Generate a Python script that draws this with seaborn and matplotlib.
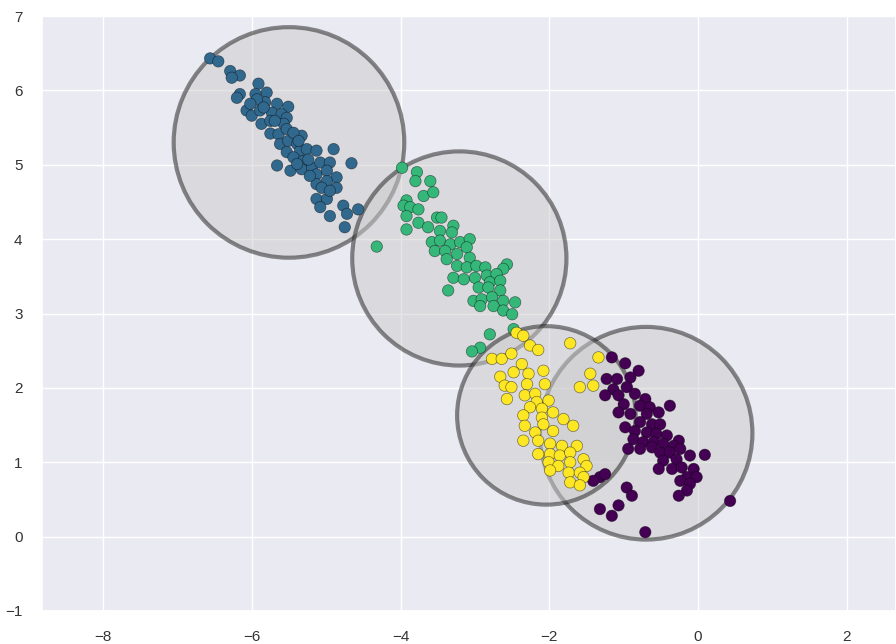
import matplotlib as mpl
import matplotlib.pyplot as plt
import numpy as np
import pandas as pd
import seaborn as sns


# cluster points (x, y)
blue_x = [-6.56, -6.45, -6.29, -6.16, -6.27, -5.91, -6.16, -6.20, -5.80, -5.95,
          -5.82, -5.66, -5.51, -6.07, -6.00, -5.89, -5.73, -5.60, -5.53, -5.87,
          -5.75, -5.57, -5.75, -5.64, -5.53, -5.33, -5.62, -5.51, -5.39, -5.35,
          -5.26, -5.13, -4.90, -5.53, -5.44, -5.31, -5.66, -5.48, -5.33, -5.19,
          -5.08, -4.95, -4.66, -5.13, -4.99, -4.86, -5.13, -4.99, -4.86, -5.13,
          -4.99, -5.08, -4.95, -4.77, -4.57, -4.72, -4.75, -5.93, -5.84, -6.02,
          -5.69, -5.44, -5.37, -5.24, -5.39, -5.22, -5.06, -4.95]
blue_y = [6.43, 6.39, 6.26, 6.20, 6.17, 6.09, 5.95, 5.90, 5.97, 5.95,
          5.84, 5.82, 5.78, 5.73, 5.66, 5.73, 5.70, 5.68, 5.63, 5.55,
          5.59, 5.55, 5.42, 5.41, 5.48, 5.39, 5.28, 5.32, 5.28, 5.19,
          5.21, 5.19, 5.21, 5.17, 5.10, 5.05, 4.99, 4.92, 4.94, 4.96,
          5.03, 5.03, 5.02, 4.87, 4.92, 4.83, 4.74, 4.78, 4.69, 4.54,
          4.54, 4.43, 4.31, 4.45, 4.40, 4.34, 4.16, 5.88, 5.77, 5.82,
          5.59, 5.43, 5.32, 5.07, 5.01, 4.85, 4.69, 4.65]

green_x = [-3.98, -3.78, -3.80, -3.60, -3.69, -3.56, -3.92, -3.96, -3.87, -3.76,
           -3.92, -3.92, -3.76, -3.63, -3.51, -3.45, -3.47, -3.29, -3.31, -3.58,
           -3.47, -3.33, -3.20, -3.07, -3.54, -3.40, -3.24, -3.11, -3.07, -3.38,
           -3.24, -3.11, -2.98, -2.86, -2.57, -2.62, -3.29, -3.15, -3.00, -2.84,
           -2.71, -2.80, -2.66, -2.95, -2.82, -2.66, -3.36, -3.02, -2.91, -2.77,
           -2.62, -2.46, -2.93, -2.75, -2.62, -2.50, -4.32, -2.80, -2.93, -3.04,
           -2.48]
green_y = [4.96, 4.90, 4.78, 4.78, 4.58, 4.63, 4.52, 4.45, 4.43, 4.40,
           4.31, 4.13, 4.22, 4.16, 4.29, 4.29, 4.11, 4.18, 4.09, 3.96,
           3.98, 3.93, 3.96, 4.00, 3.84, 3.84, 3.80, 3.89, 3.75, 3.73,
           3.64, 3.62, 3.64, 3.62, 3.66, 3.60, 3.48, 3.46, 3.48, 3.51,
           3.53, 3.42, 3.44, 3.35, 3.35, 3.31, 3.31, 3.17, 3.19, 3.22,
           3.17, 3.15, 3.10, 3.10, 3.04, 2.99, 3.90, 2.72, 2.54, 2.49,
           2.79]

yellow_x = [-2.44, -2.35, -2.26, -2.15, -1.72, -2.77, -2.64, -2.51, -2.37, -2.48,
            -2.66, -2.28, -2.08, -2.60, -2.51, -2.30, -2.06, -2.57, -2.33, -2.19,
            -2.17, -2.01, -2.26, -2.10, -1.95, -2.35, -2.10, -1.81, -1.68, -2.33,
            -2.08, -1.95, -2.19, -2.35, -2.15, -1.99, -1.83, -1.63, -2.15, -1.99,
            -1.86, -1.72, -2.01, -1.88, -1.72, -1.54, -1.50, -1.74, -1.59, -1.72,
            -1.54, -1.59, -1.99, -1.34, -1.45, -1.59, -1.41]
yellow_y = [2.74, 2.70, 2.57, 2.51, 2.60, 2.39, 2.39, 2.46, 2.32, 2.21,
            2.15, 2.19, 2.23, 2.03, 2.01, 2.05, 2.05, 1.85, 1.90, 1.92,
            1.81, 1.83, 1.74, 1.72, 1.67, 1.63, 1.60, 1.58, 1.49, 1.49,
            1.51, 1.42, 1.40, 1.29, 1.29, 1.25, 1.22, 1.22, 1.11, 1.11,
            1.09, 1.13, 1.00, 0.95, 1.00, 1.04, 0.95, 0.86, 0.86, 0.73,
            0.80, 0.69, 0.89, 2.41, 2.19, 2.01, 2.03]

purple_x = [-1.16, -0.98, -0.80, -1.23, -1.09, -0.91, -0.96, -1.14, -1.25, -1.07,
            -0.85, -0.71, -1.00, -0.78, -0.65, -0.38, -1.07, -0.91, -0.69, -0.53,
            -0.78, -0.62, -0.51, -0.98, -0.85, -0.69, -0.56, -0.42, -0.26, -0.87,
            -0.74, -0.60, -0.47, -0.94, -0.78, -0.62, -0.33, -0.51, -0.38, -0.24,
            -0.11, 0.09, -0.47, -0.29, -0.53, -0.35, -0.22, -0.06, -0.15, -0.02,
            -0.24, -0.11, -0.15, -0.26, -1.32, -1.41, -1.25, -0.96, -0.89, -1.07,
            -1.32, -1.16, -0.71, 0.43]
purple_y = [2.41, 2.33, 2.23, 2.12, 2.12, 2.14, 2.01, 1.98, 1.90, 1.90,
            1.92, 1.85, 1.78, 1.76, 1.74, 1.76, 1.67, 1.65, 1.65, 1.67,
            1.54, 1.51, 1.51, 1.47, 1.42, 1.40, 1.38, 1.36, 1.29, 1.31,
            1.27, 1.27, 1.25, 1.18, 1.18, 1.20, 1.22, 1.13, 1.13, 1.18,
            1.09, 1.10, 1.02, 1.04, 0.91, 0.91, 0.93, 0.91, 0.80, 0.80,
            0.75, 0.71, 0.62, 0.55, 0.80, 0.75, 0.84, 0.66, 0.55, 0.42,
            0.37, 0.28, 0.06, 0.48]

# k-means circles: label order 0 purple, 1 blue, 2 green, 3 yellow
center_x = [-0.70, -5.50, -3.21, -2.04]
center_y = [1.39, 5.30, 3.74, 1.63]
radius = [1.43, 1.55, 1.44, 1.20]

sns.set_theme(style="darkgrid")
plt.rcParams["font.family"] = ["Liberation Sans", "DejaVu Sans"]

df = pd.concat([
    pd.DataFrame({"x": purple_x, "y": purple_y, "label": 0}),
    pd.DataFrame({"x": blue_x, "y": blue_y, "label": 1}),
    pd.DataFrame({"x": green_x, "y": green_y, "label": 2}),
    pd.DataFrame({"x": yellow_x, "y": yellow_y, "label": 3}),
], ignore_index=True)

palette = {i: mpl.cm.viridis(i / 3) for i in range(4)}

fig = plt.figure(figsize=(8.96, 6.44), dpi=100)
ax = fig.add_axes([42 / 896, 33 / 644, 854 / 896, 595 / 644])

for cx, cy, r in zip(center_x, center_y, radius):
    ax.add_patch(plt.Circle((cx, cy), r, fc="#CCCCCC", ec="k", lw=3,
                            alpha=0.5, zorder=1))

sns.scatterplot(data=df, x="x", y="y", hue="label", palette=palette,
                s=68, edgecolor=(0, 0, 0, 0.5), linewidth=0.5,
                legend=False, zorder=2, ax=ax)

ax.set_xlim(-8.82, 2.66)
ax.set_ylim(-1, 7)
ax.set_xticks([-8, -6, -4, -2, 0, 2])
ax.set_yticks(range(-1, 8))
ax.set_xlabel("")
ax.set_ylabel("")
ax.tick_params(labelsize=11, colors="#333333", pad=8)

fig.savefig("out.png", dpi=100)
